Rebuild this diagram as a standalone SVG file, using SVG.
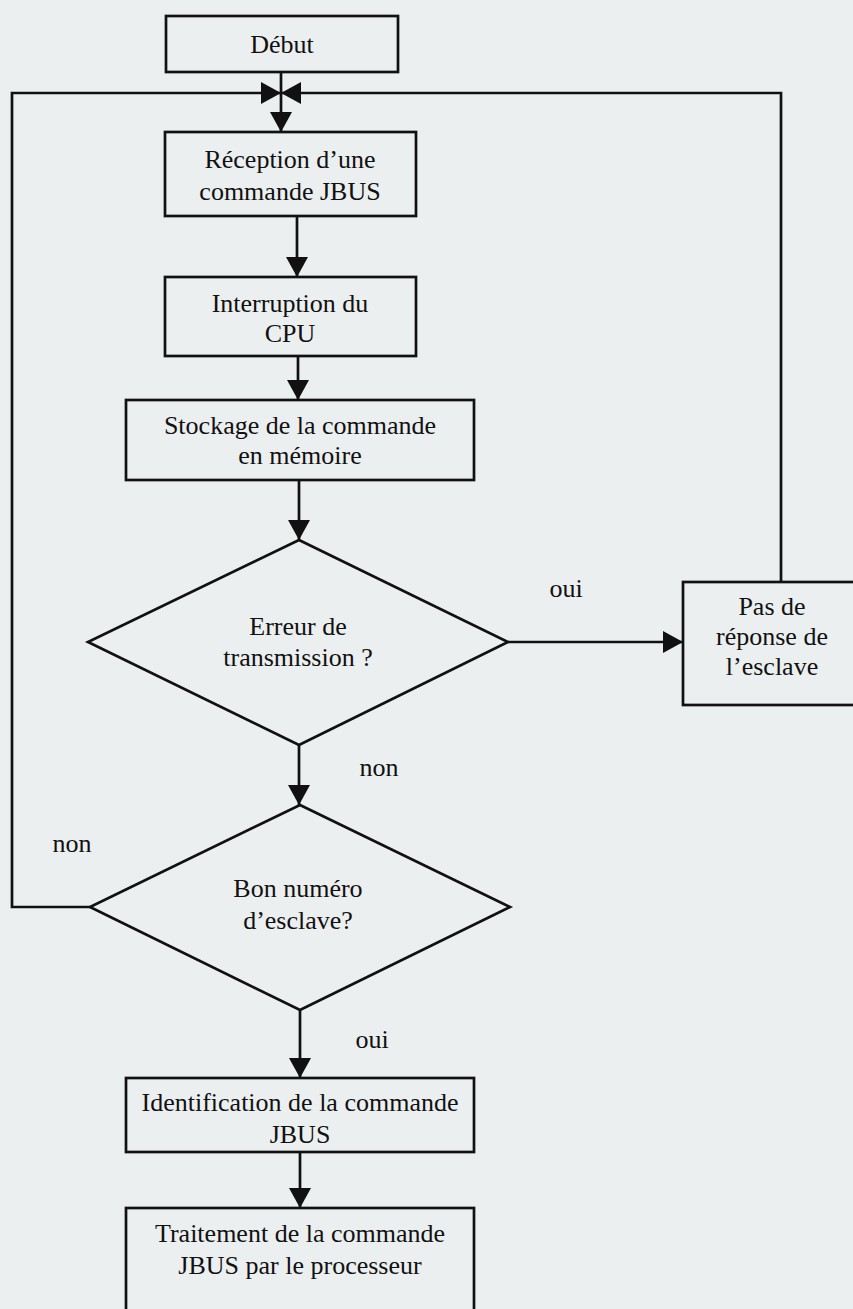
<svg xmlns="http://www.w3.org/2000/svg" width="853" height="1309" viewBox="0 0 853 1309">
<style>
.bg{fill:#eceff0}
.box{fill:none;stroke:#111;stroke-width:2.7}
.ln{fill:none;stroke:#111;stroke-width:2.7}
.ah{fill:#111}
text{font-family:"Liberation Serif","Times New Roman",serif;font-size:26px;fill:#111;text-anchor:middle}
</style>
<defs>
<marker id="arr" viewBox="0 0 20 22" refX="20" refY="11" markerWidth="20" markerHeight="22" markerUnits="userSpaceOnUse" orient="auto">
<path d="M0,0 L20,11 L0,22 Z" class="ah"/>
</marker>
</defs>
<rect class="bg" x="0" y="0" width="853" height="1309"/>

<g id="connectors">
<line class="ln" x1="281" y1="72" x2="281" y2="132" marker-end="url(#arr)"/>
<polyline class="ln" points="90,907 12,907 12,93 281,93" marker-end="url(#arr)"/>
<polyline class="ln" points="781,582 781,93 281,93" marker-end="url(#arr)"/>
<line class="ln" x1="297" y1="216" x2="297" y2="277" marker-end="url(#arr)"/>
<line class="ln" x1="298" y1="356" x2="298" y2="400" marker-end="url(#arr)"/>
<line class="ln" x1="299" y1="480" x2="299" y2="540" marker-end="url(#arr)"/>
<line class="ln" x1="508" y1="642" x2="683" y2="642" marker-end="url(#arr)"/>
<line class="ln" x1="299" y1="745" x2="299" y2="805" marker-end="url(#arr)"/>
<line class="ln" x1="300" y1="1010" x2="300" y2="1078" marker-end="url(#arr)"/>
<line class="ln" x1="300" y1="1152" x2="300" y2="1208" marker-end="url(#arr)"/>
<text x="566" y="597">oui</text>
<text x="379" y="776">non</text>
<text x="72" y="852">non</text>
<text x="372" y="1048">oui</text>
</g>

<g id="debut">
<rect class="box" x="166" y="16" width="232" height="56"/>
<text x="282" y="53">Début</text>
</g>

<g id="reception">
<rect class="box" x="165" y="132" width="251" height="84"/>
<text x="290" y="168">Réception d’une</text>
<text x="290" y="200">commande JBUS</text>
</g>

<g id="interruption">
<rect class="box" x="165" y="277" width="251" height="79"/>
<text x="290" y="312">Interruption du</text>
<text x="290" y="342">CPU</text>
</g>

<g id="stockage">
<rect class="box" x="126" y="400" width="348" height="80"/>
<text x="300" y="434">Stockage de la commande</text>
<text x="300" y="464">en mémoire</text>
</g>

<g id="erreur">
<polygon class="box" points="299,540 508,642 299,745 88,642"/>
<text x="298" y="635">Erreur de</text>
<text x="298" y="666">transmission ?</text>
</g>

<g id="pas-de-reponse">
<rect class="box" x="683" y="582" width="190" height="123"/>
<text x="772" y="615">Pas de</text>
<text x="772" y="645">réponse de</text>
<text x="772" y="675">l’esclave</text>
</g>

<g id="bon-numero">
<polygon class="box" points="300,805 510,907 300,1010 90,907"/>
<text x="298" y="897">Bon numéro</text>
<text x="298" y="929">d’esclave?</text>
</g>

<g id="identification">
<rect class="box" x="126" y="1078" width="348" height="74"/>
<text x="300" y="1111">Identification de la commande</text>
<text x="300" y="1143">JBUS</text>
</g>

<g id="traitement">
<rect class="box" x="126" y="1208" width="348" height="110"/>
<text x="300" y="1242">Traitement de la commande</text>
<text x="300" y="1274">JBUS par le processeur</text>
</g>
</svg>
